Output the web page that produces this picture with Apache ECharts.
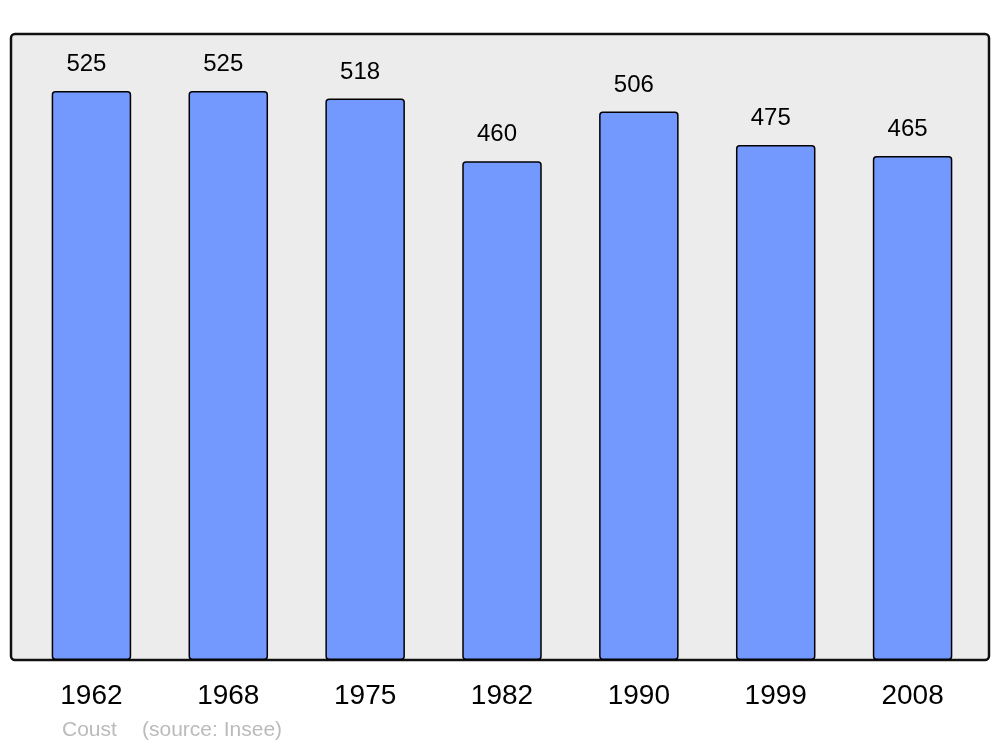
<!DOCTYPE html>
<html><head><meta charset="utf-8">
<script src="https://cdn.jsdelivr.net/npm/echarts@6/dist/echarts.min.js"></script>
<style>html,body{margin:0;padding:0;background:#fff}#c{width:1000px;height:747px}</style>
</head><body><div id="c"></div>
<script>
const years = ['1962','1968','1975','1982','1990','1999','2008'];
const population = [525, 525, 518, 460, 506, 475, 465];
const footerName = 'Coust';
const footerSource = '(source: Insee)';

const chart = echarts.init(document.getElementById('c'), null, {renderer:'canvas'});
const FONT = 'Liberation Sans, Arial, sans-serif';
chart.setOption({
  animation: false,
  backgroundColor: '#ffffff',
  grid: {left: 23, right: 19, top: 34, bottom: 87, containLabel: false},
  graphic: [
    {type:'rect', z:-10, shape:{x:11, y:34, width:978, height:626, r:4},
     style:{fill:'#ececec', stroke:'#111', lineWidth:2.5}},
    {type:'text', left:62, top:720, style:{text: footerName, font:'21px ' + FONT, fill:'#bbbbbb'}},
    {type:'text', left:142, top:720, style:{text: footerSource, font:'21px ' + FONT, fill:'#bbbbbb'}}
  ],
  xAxis: {
    type:'category', data: years,
    axisLine:{show:false}, axisTick:{show:false},
    axisLabel:{fontSize:28, color:'#000', fontFamily:FONT, margin:22}
  },
  yAxis: {type:'value', min:0, max:577.5, show:false, splitLine:{show:false}},
  series: [{
    type:'bar', data: population, barWidth:79.5,
    itemStyle:{color:'#7399ff', borderColor:'#000', borderWidth:1.5, borderRadius:3},
    label:{show:true, position:'top', distance:14.5, offset:[-5,0], fontSize:24, color:'#000', fontFamily:FONT}
  }]
});
</script></body></html>
